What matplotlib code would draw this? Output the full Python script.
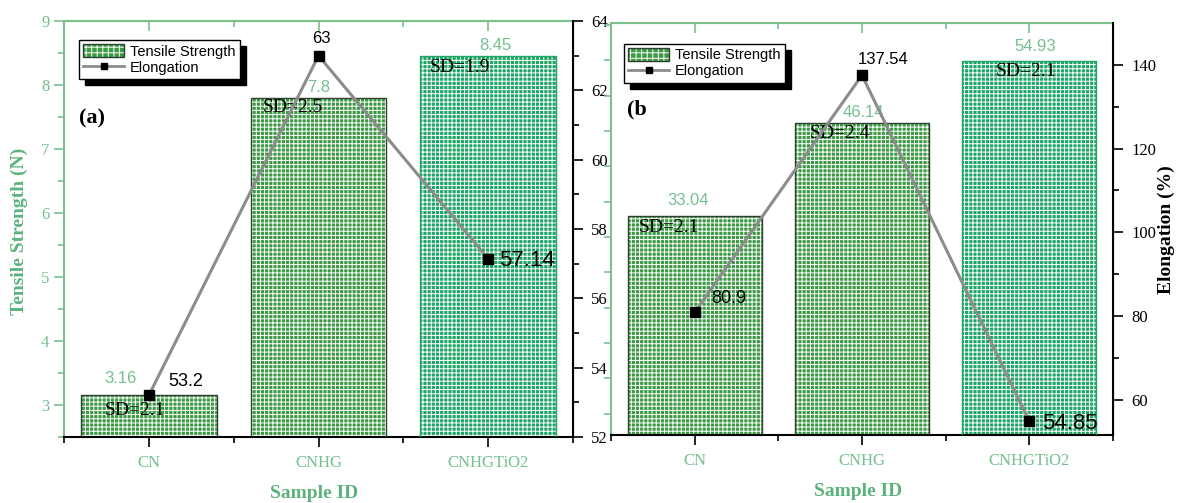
import matplotlib
matplotlib.use('Agg')
import matplotlib.pyplot as plt
import matplotlib.transforms as mtransforms
from matplotlib.patches import Patch, Rectangle
from matplotlib.lines import Line2D
from matplotlib.legend_handler import HandlerTuple
from matplotlib.ticker import MultipleLocator, FixedLocator

# data
samples = ['CN', 'CNHG', 'CNHGTiO2']
tensile_a = [3.16, 7.8, 8.45]
elong_a = [53.2, 63, 57.14]
sd_a = [2.1, 2.5, 1.9]
tensile_b = [33.04, 46.14, 54.93]
elong_b = [80.9, 137.54, 54.85]
sd_b = [2.1, 2.4, 2.1]

GREEN_TXT = '#74c08f'
GREEN_LAB = '#5cb27c'
GREEN_SPINE = '#7cc08e'
BAR_FACE = ['#3c9a44', '#3c9a44', '#1fa565']
BAR_EDGE = ['#2f3f30', '#2f3f30', '#1fa565']
LINE_C = '#8c8c8c'

plt.rcParams['hatch.linewidth'] = 0.7
plt.rcParams['hatch.color'] = 'white'
SERIF = 'Liberation Serif'
SANS = 'Liberation Sans'

fig = plt.figure(figsize=(11.82, 5.03), dpi=100)


def panel(rect, tens, elong, sd, tlim, elim, eticks, eminor, tick_labels_left,
          val_off, sd_off, el_off, el_ha, el_size, tag, tag_pos, leg_anchor):
    ax = fig.add_axes(rect)
    x = list(range(len(samples)))
    ax.bar(x, tens, width=0.8, color=BAR_FACE, edgecolor='white', hatch='++++',
           linewidth=0, zorder=2)
    ax.bar(x, tens, width=0.8, fill=False, edgecolor=BAR_EDGE, linewidth=1.0, zorder=3)
    ax.set_xlim(-0.5, 2.5)
    ax.set_ylim(*tlim)

    # x axis
    ax.set_xticks(x)
    ax.set_xticklabels(samples, family=SERIF, fontsize=12, color=GREEN_TXT)
    ax.xaxis.set_minor_locator(FixedLocator([-0.5, 0.5, 1.5, 2.5]))
    ax.tick_params(axis='x', which='major', length=7, width=1.2, color='black',
                   direction='out', pad=6)
    ax.tick_params(axis='x', which='minor', length=4, width=1.2, color='black',
                   direction='out')
    top = ax.secondary_xaxis('top')
    top.set_xticks(x)
    top.xaxis.set_minor_locator(FixedLocator([0.5, 1.5]))
    top.tick_params(which='major', direction='in', length=7, color=GREEN_SPINE,
                    labeltop=False, width=1.2)
    top.tick_params(which='minor', direction='in', length=4, color=GREEN_SPINE,
                    width=1.2)
    top.spines['top'].set_color(GREEN_SPINE)
    top.spines['top'].set_linewidth(1.5)

    # left axis
    ax.spines['left'].set_color(GREEN_SPINE)
    ax.spines['top'].set_color(GREEN_SPINE)
    ax.spines['bottom'].set_color('black')
    ax.spines['left'].set_linewidth(1.5)
    ax.spines['bottom'].set_linewidth(1.5)
    if tick_labels_left:
        ax.yaxis.set_major_locator(MultipleLocator(1))
        ax.yaxis.set_minor_locator(MultipleLocator(0.5))
        ax.tick_params(axis='y', which='major', length=7, color=GREEN_SPINE,
                       labelcolor=GREEN_TXT, labelsize=12, width=1.2)
        ax.tick_params(axis='y', which='minor', length=4, color=GREEN_SPINE, width=1.2)
        for lab in ax.get_yticklabels():
            lab.set_family(SERIF)
    else:
        ax.yaxis.set_major_locator(MultipleLocator(5))
        ax.tick_params(axis='y', which='major', length=5, color=GREEN_SPINE,
                       labelleft=False, width=1.2)

    # right axis (elongation)
    ax2 = ax.twinx()
    ax2.plot(x, elong, color=LINE_C, linewidth=2.2, marker='s', markersize=7,
             markerfacecolor='black', markeredgecolor='black', zorder=4)
    ax2.set_ylim(*elim)
    ax2.yaxis.set_major_locator(FixedLocator(eticks))
    ax2.yaxis.set_minor_locator(FixedLocator(eminor))
    ax2.tick_params(axis='y', which='major', length=7, width=1.2, labelsize=12, pad=6)
    ax2.tick_params(axis='y', which='minor', length=4, width=1.2)
    for lab in ax2.get_yticklabels():
        lab.set_family(SERIF)
    ax2.spines['right'].set_linewidth(1.5)
    ax2.spines['left'].set_visible(False)
    ax2.spines['top'].set_visible(False)
    ax2.spines['bottom'].set_visible(False)

    # annotations
    for i in x:
        ax.annotate(f'{tens[i]:g}', (i, tens[i]), xytext=val_off[i],
                    textcoords='offset pixels', ha='center', va='center',
                    color=GREEN_TXT, fontsize=12, family=SANS, zorder=6)
        ax.annotate(f'SD={sd[i]}', (i, tens[i]), xytext=sd_off[i],
                    textcoords='offset pixels', ha='center', va='center',
                    color='black', fontsize=14, family=SERIF, zorder=6)
        ax2.annotate(f'{elong[i]:g}', (i, elong[i]), xytext=el_off[i],
                     textcoords='offset pixels', ha=el_ha[i], va='center',
                     color='black', fontsize=el_size[i], family=SANS, zorder=6)

    ax.text(tag_pos[0], tag_pos[1], tag, transform=ax.transAxes, family=SERIF,
            fontweight='bold', fontsize=16, ha='left', va='center')

    h_bar = (Patch(facecolor=BAR_FACE[0], edgecolor='white', hatch='+++', linewidth=0),
             Patch(fill=False, edgecolor='#2f3f30', linewidth=1.0))
    h_line = Line2D([], [], color=LINE_C, linewidth=2, marker='s', markersize=5,
                    markerfacecolor='black', markeredgecolor='black')
    leg = ax2.legend([h_bar, h_line], ['Tensile Strength', 'Elongation'],
                     handler_map={tuple: HandlerTuple(ndivide=1)},
                     loc='upper left', bbox_to_anchor=leg_anchor, borderaxespad=0,
                     fancybox=False, framealpha=1, edgecolor='black',
                     prop={'family': SANS, 'size': 10.5}, handlelength=2.8,
                     handleheight=1.0, labelspacing=0.1, borderpad=0.3,
                     handletextpad=0.4)
    leg.get_frame().set_linewidth(1.0)
    leg.set_zorder(10)
    return ax, ax2, leg


ax_a, ax_a2, leg_a = panel(
    [64 / 1182, 66 / 503, 509 / 1182, 416 / 503], tensile_a, elong_a, sd_a,
    (2.5, 9), (52, 64), [52, 54, 56, 58, 60, 62, 64], [53, 55, 57, 59, 61, 63], True,
    val_off=[(-28, 16), (0, 10), (7, 11)],
    sd_off=[(-14, -16), (-26, -10), (-28, -11)],
    el_off=[(37, 14), (3, 17), (11, -2)],
    el_ha=['center', 'center', 'left'], el_size=[13, 12, 16],
    tag='(a)', tag_pos=(0.03, 0.765), leg_anchor=(0.029, 0.955))

ax_b, ax_b2, leg_b = panel(
    [611 / 1182, 68 / 503, 502 / 1182, 412 / 503], tensile_b, elong_b, sd_b,
    (2.0, 60.3), (51.6, 150), [60, 80, 100, 120, 140], [70, 90, 110, 130], False,
    val_off=[(-7, 15), (1, 11), (6, 14)],
    sd_off=[(-26, -12), (-22, -10), (-3, -11)],
    el_off=[(34, 14), (21, 16), (13, -2)],
    el_ha=['center', 'center', 'left'], el_size=[13, 12, 16],
    tag='(b', tag_pos=(0.032, 0.79), leg_anchor=(0.026, 0.95))

# axis titles
fig.text(19 / 1182, 1 - 231 / 503, 'Tensile Strength (N)', rotation=90, ha='center',
         va='center', family=SERIF, fontweight='bold', fontsize=14, color=GREEN_LAB)
fig.text(314 / 1182, 1 - 494 / 503, 'Sample ID', ha='center', va='center',
         family=SERIF, fontweight='bold', fontsize=14, color=GREEN_LAB)
fig.text(858 / 1182, 1 - 492 / 503, 'Sample ID', ha='center', va='center',
         family=SERIF, fontweight='bold', fontsize=14, color=GREEN_LAB)
fig.text(1166 / 1182, 1 - 230 / 503, 'Elongation (%)', rotation=90, ha='center',
         va='center', family=SERIF, fontweight='bold', fontsize=14, color='black')

# black offset shadow behind the legends
fig.canvas.draw()
for leg, a2 in ((leg_a, ax_a2), (leg_b, ax_b2)):
    bb = leg.get_window_extent()
    a2.add_patch(Rectangle((bb.x0 + 6, bb.y0 - 6), bb.width, bb.height,
                           transform=mtransforms.IdentityTransform(),
                           facecolor='black', edgecolor='black', zorder=9,
                           clip_on=False))

fig.savefig('out.png', dpi=100)
